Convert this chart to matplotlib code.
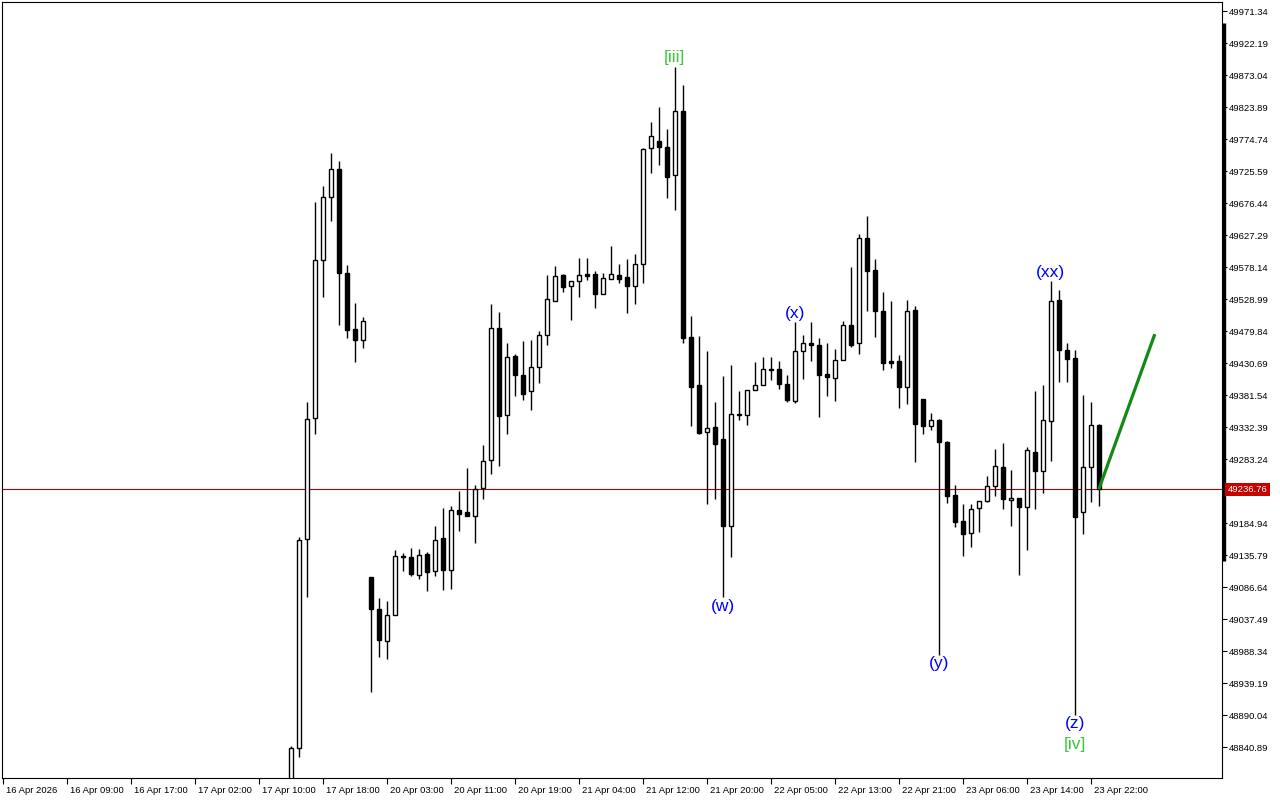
import numpy as np
import matplotlib
matplotlib.use("Agg")
import matplotlib.pyplot as plt
import matplotlib.transforms as mtransforms

# ---------------- data (hourly candles, 17 Apr 14:00 .. 23 Apr 23:00) ----------------
first_bar = 36  # bar index of first visible candle (bar 0 = "16 Apr 2026")

opens = [48770.0, 48839.4, 49160.1, 49346.4, 49588.8, 49685.1, 49728.2, 49569.1, 49483.2, 49466.6,
         49102.0, 49052.9, 49004.2, 49043.2, 49133.8, 49132.2, 49105.5, 49136.9, 49111.6, 49161.4,
         49113.2, 49204.5, 49201.4, 49195.0, 49239.2, 49281.3, 49484.0, 49350.3, 49441.5, 49412.3,
         49387.2, 49424.1, 49473.1, 49526.3, 49565.4, 49548.5, 49556.2, 49567.0, 49567.0, 49536.9,
         49559.2, 49565.4, 49562.4, 49548.5, 49582.3, 49761.0, 49772.0, 49762.1, 49719.0, 49817.1,
         49470.6, 49396.8, 49324.0, 49332.1, 49313.8, 49180.2, 49351.0, 49351.0, 49388.8, 49396.4,
         49420.7, 49421.0, 49398.0, 49371.9, 49448.7, 49461.0, 49457.9, 49413.4, 49407.2, 49434.9,
         49488.6, 49461.0, 49622.2, 49573.1, 49510.1, 49433.3, 49433.3, 49394.3, 49511.6, 49374.9,
         49334.4, 49342.8, 49309.4, 49227.5, 49187.6, 49170.1, 49207.6, 49218.3, 49242.3, 49270.5,
         49219.8, 49222.9, 49209.1, 49293.6, 49264.4, 49341.1, 49527.0, 49450.2, 49437.9, 49201.4,
         49270.5, 49335.0]
highs = [48843.1, 49163.8, 49371.1, 49678.3, 49702.3, 49753.4, 49740.7, 49581.4, 49522.7, 49501.2,
         49102.0, 49069.8, 49064.7, 49143.5, 49139.2, 49146.1, 49145.0, 49139.9, 49179.9, 49207.5,
         49210.6, 49233.6, 49269.0, 49243.9, 49304.3, 49521.3, 49509.0, 49461.9, 49445.0, 49464.9,
         49466.3, 49479.8, 49565.8, 49579.7, 49567.4, 49556.7, 49591.5, 49591.5, 49571.9, 49568.4,
         49610.0, 49582.3, 49590.0, 49597.7, 49761.0, 49801.0, 49823.6, 49789.6, 49885.6, 49857.5,
         49502.9, 49472.2, 49449.1, 49370.9, 49410.3, 49428.1, 49387.7, 49389.2, 49432.2, 49439.9,
         49439.9, 49433.8, 49411.8, 49493.7, 49473.7, 49493.7, 49469.1, 49461.4, 49451.7, 49494.8,
         49578.2, 49628.8, 49656.5, 49590.0, 49539.7, 49525.9, 49442.5, 49527.5, 49517.8, 49374.9,
         49353.5, 49344.2, 49310.9, 49242.9, 49214.1, 49213.7, 49218.8, 49256.7, 49298.6, 49307.8,
         49266.3, 49222.9, 49301.2, 49387.7, 49396.9, 49556.2, 49542.4, 49460.9, 49450.2, 49381.1,
         49370.3, 49336.6]
lows = [48740.0, 48826.3, 49071.9, 49321.0, 49531.5, 49649.3, 49489.5, 49469.7, 49432.7, 49454.4,
        48925.1, 48979.8, 48976.5, 49043.2, 49111.6, 49103.9, 49098.3, 49079.9, 49103.9, 49081.4,
        49083.0, 49173.1, 49195.3, 49154.8, 49221.4, 49259.6, 49273.0, 49322.1, 49380.5, 49373.4,
        49359.0, 49400.5, 49458.8, 49526.3, 49540.2, 49497.4, 49532.3, 49558.2, 49515.3, 49536.9,
        49559.2, 49553.1, 49508.0, 49521.8, 49553.1, 49723.0, 49734.1, 49684.6, 49666.3, 49461.4,
        49333.8, 49321.3, 49214.6, 49221.7, 49070.7, 49132.7, 49342.8, 49335.9, 49388.8, 49396.4,
        49404.1, 49391.2, 49370.3, 49368.8, 49405.7, 49434.2, 49347.3, 49379.6, 49371.9, 49434.9,
        49455.7, 49445.0, 49511.0, 49471.1, 49420.4, 49423.5, 49362.0, 49368.2, 49279.1, 49322.1,
        49328.2, 48982.2, 49216.1, 49179.3, 49134.7, 49148.6, 49171.6, 49216.8, 49226.9, 49206.9,
        49180.8, 49105.6, 49144.0, 49206.9, 49230.6, 49279.7, 49402.0, 49401.1, 48890.1, 49167.6,
        49216.8, 49210.6]
closes = [48838.8, 49158.2, 49344.5, 49588.8, 49685.1, 49729.4, 49569.7, 49482.0, 49466.6, 49495.1,
          49052.7, 49004.5, 49043.2, 49133.8, 49133.0, 49107.0, 49135.3, 49110.1, 49158.4, 49113.2,
          49204.5, 49199.3, 49195.3, 49237.5, 49279.7, 49484.0, 49349.7, 49440.0, 49411.7, 49383.6,
          49424.1, 49473.1, 49529.6, 49563.9, 49547.0, 49556.2, 49565.4, 49564.8, 49536.9, 49560.8,
          49567.0, 49560.2, 49549.5, 49582.3, 49759.4, 49779.4, 49762.1, 49716.8, 49817.1, 49469.6,
          49394.2, 49322.9, 49330.6, 49306.8, 49180.2, 49352.1, 49352.1, 49389.2, 49396.4, 49421.0,
          49421.0, 49398.0, 49373.4, 49448.7, 49461.0, 49457.9, 49411.8, 49408.8, 49434.9, 49488.6,
          49458.8, 49622.2, 49571.5, 49511.0, 49431.2, 49431.2, 49394.3, 49510.1, 49337.5, 49334.4,
          49343.6, 49309.8, 49226.9, 49187.0, 49168.6, 49206.0, 49218.3, 49241.3, 49272.0, 49221.4,
          49222.9, 49209.1, 49296.6, 49264.4, 49342.7, 49525.5, 49450.2, 49437.3, 49193.7, 49270.5,
          49335.0, 49236.76]

current_price = 49236.76

# wave labels: (text, candle index, 'high'/'low', colour, extra offset in points)
wave_labels = [
    ("[iii]", 48, "high", "#3CC83C", 0),
    ("(w)", 54, "low", "#0000FF", 0),
    ("(x)", 63, "high", "#0000FF", 0),
    ("(y)", 81, "low", "#0000FF", 0),
    ("(xx)", 95, "high", "#0000FF", 0),
    ("(z)", 98, "low", "#0000FF", 0),
    ("[iv]", 98, "low", "#3CC83C", -14.5),
]

# projected wave line (bar index, price)
proj_bars = [137, 144]
proj_prices = [49236.76, 49475.0]

x_tick_bars = list(range(0, 137, 8))
x_tick_labels = ["16 Apr 2026", "16 Apr 09:00", "16 Apr 17:00", "17 Apr 02:00", "17 Apr 10:00",
                 "17 Apr 18:00", "20 Apr 03:00", "20 Apr 11:00", "20 Apr 19:00", "21 Apr 04:00",
                 "21 Apr 12:00", "21 Apr 20:00", "22 Apr 05:00", "22 Apr 13:00", "22 Apr 21:00",
                 "23 Apr 06:00", "23 Apr 14:00", "23 Apr 22:00"]
y_tick_base = 48840.89
y_tick_step = 49.15
y_tick_count = 24

# ---------------- figure ----------------
fig = plt.figure(figsize=(12.8, 8), dpi=100)
ax = fig.add_axes([2 / 1280, 22 / 800, 1220 / 1280, 776 / 800])

o = np.array(opens); h = np.array(highs); l = np.array(lows); c = np.array(closes)
x = first_bar + np.arange(len(o))
up = c >= o

ax.vlines(x, l, h, color="black", linewidth=1.0, zorder=2)
bottoms = np.minimum(o, c)
heights = np.abs(c - o)
ax.bar(x[up], heights[up], bottom=bottoms[up], width=0.55, color="white",
       edgecolor="black", linewidth=1.0, zorder=3)
ax.bar(x[~up], heights[~up], bottom=bottoms[~up], width=0.55, color="black",
       edgecolor="black", linewidth=1.0, zorder=3)

# current price line
ax.axhline(current_price, color="#B40000", linewidth=0.8, zorder=1)

# projection line
ax.plot(proj_bars, proj_prices, color="#138A13", linewidth=2.3, zorder=4,
        solid_capstyle="butt")

# wave labels
for txt, idx, where, col, extra in wave_labels:
    if where == "high":
        ax.annotate(txt, xy=(x[idx], h[idx]), xytext=(0, 1 + extra), textcoords="offset points",
                    ha="center", va="bottom", color=col, fontsize=12.5,
                    family=["Liberation Sans", "DejaVu Sans"], zorder=5)
    else:
        ax.annotate(txt, xy=(x[idx], l[idx]), xytext=(0, -1 + extra), textcoords="offset points",
                    ha="center", va="top", color=col, fontsize=12.5,
                    family=["Liberation Sans", "DejaVu Sans"], zorder=5)

# axes limits / ticks
ax.set_xlim(-0.1, 152.4)
ax.set_ylim(48793.3, 49985.2)

yt = y_tick_base + y_tick_step * np.arange(y_tick_count)
ax.yaxis.tick_right()
ax.set_yticks(yt)
ax.set_yticklabels([f"{v:.2f}" for v in yt])
ax.tick_params(axis="y", direction="out", length=3.5, width=0.8, pad=1.5,
               labelsize=6.8, colors="black")
ax.set_xticks(x_tick_bars)
ax.set_xticklabels(x_tick_labels)
ax.tick_params(axis="x", direction="out", length=4.5, width=0.8, pad=1.5,
               labelsize=6.8, colors="black")
offset = mtransforms.ScaledTranslation(2 / 72, 0, fig.dpi_scale_trans)
for lab in ax.get_xticklabels():
    lab.set_horizontalalignment("left")
    lab.set_transform(lab.get_transform() + offset)
for lab in ax.get_xticklabels() + ax.get_yticklabels():
    lab.set_family(["Liberation Sans", "DejaVu Sans"])

for sp in ax.spines.values():
    sp.set_linewidth(0.8)
    sp.set_color("black")

# thick segment on the price scale edge
ax.plot([1.0015, 1.0015], [0.28, 0.973], transform=ax.transAxes, color="black",
        linewidth=2.4, clip_on=False, solid_capstyle="butt")

# current price tag
trans = mtransforms.blended_transform_factory(ax.transAxes, ax.transData)
ax.text(1.0045, current_price, f"{current_price:.2f}", transform=trans, ha="left",
        va="center", color="white", fontsize=6.8, family=["Liberation Sans", "DejaVu Sans"],
        bbox=dict(facecolor="#C80000", edgecolor="none", pad=1.6), clip_on=False, zorder=6)

fig.savefig("out.png", dpi=100)
